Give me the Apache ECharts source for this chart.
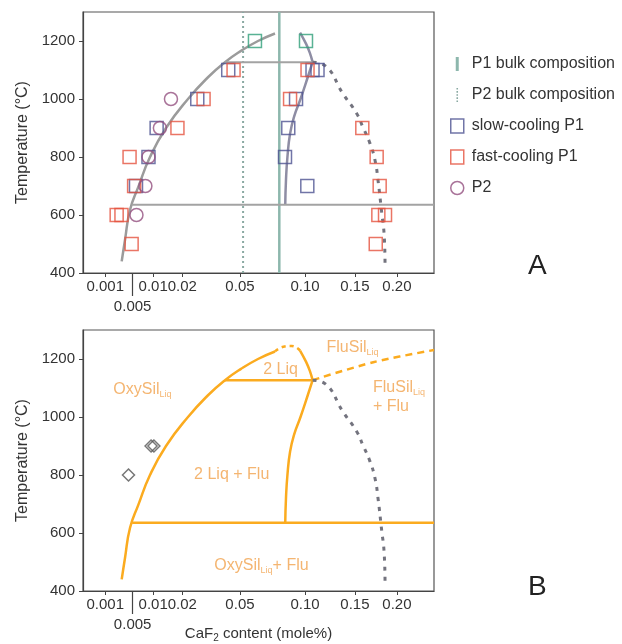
<!DOCTYPE html>
<html>
<head>
<meta charset="utf-8">
<script src="https://cdn.jsdelivr.net/npm/echarts@6/dist/echarts.min.js"></script>
<style>
html,body{margin:0;padding:0;background:#fff;}
#chart{width:622px;height:644px;}
</style>
</head>
<body>
<div id="chart"></div>
<script>
/* x axis: CaF2 content, drawn on a square-root scale */
var tickValues = [0.001, 0.01, 0.02, 0.05, 0.10, 0.15, 0.20];
var tickLabels = ['0.001', '0.01', '0.02', '0.05', '0.10', '0.15', '0.20'];
var extraTick = 0.005;
var extraLabel = '0.005';
var tempTicks = [400, 600, 800, 1000, 1200];

/* bulk compositions */
var p1Bulk = [[0.0782, 400], [0.0782, 1300]];
var p2Bulk = [[0.0520, 400], [0.0520, 1300]];

/* phase boundaries [content, T] */
var oxyLiquidus = [[0.00304, 440], [0.00358, 514], [0.00448, 617], [0.00621, 697], [0.00911, 800],
	[0.01398, 900], [0.02237, 1000], [0.03171, 1075], [0.04092, 1127], [0.05066, 1166],
	[0.06214, 1200], [0.07480, 1226]];
var fluLiqUpper = [[0.0956, 1229], [0.1010, 1190], [0.1045, 1158], [0.1070, 1127]];
var fluLiqLower = [[0.1070, 1127], [0.1025, 1075], [0.0960, 1000], [0.0905, 940], [0.0870, 880],
	[0.0848, 800], [0.0836, 720], [0.0830, 635]];
var solvus = [[0.1070, 1127], [0.1188, 1115], [0.1372, 1018], [0.1520, 950], [0.1591, 902],
	[0.1671, 847], [0.1730, 789], [0.1766, 720], [0.1811, 607], [0.1839, 538], [0.1851, 435]];
var domeTop = [[0.0748, 1226], [0.0814, 1242], [0.0884, 1245], [0.0956, 1229]];
var fluSilBoundary = [[0.1070, 1127], [0.1710, 1189], [0.2500, 1231]];
var tieUpper = [[0.0409, 1127], [0.1070, 1127]];
var tieLower = [[0.0049, 635], [0.2500, 635]];

/* experiments */
var slowP1 = [[0.0428, 1100], [0.0265, 1000], [0.0110, 900], [0.0087, 800], [0.0057, 700],
	[0.1069, 1100], [0.1116, 1100], [0.0921, 1000], [0.0855, 900], [0.0828, 800], [0.1021, 700]];
var fastP1 = [[0.0460, 1100], [0.0295, 1000], [0.0181, 900], [0.0044, 800], [0.0053, 700],
	[0.0023, 600], [0.0030, 600], [0.0048, 500],
	[0.1023, 1100], [0.0870, 1000], [0.1583, 900], [0.1750, 800], [0.1786, 700],
	[0.1770, 600], [0.1851, 600], [0.1739, 500]];
var p2Points = [[0.0157, 1000], [0.0120, 900], [0.0087, 800], [0.0079, 700], [0.0058, 600]];
var p1At1200 = [[0.0600, 1200], [0.1009, 1200]];
var diamonds = [[0.0042, 800], [0.0094, 900], [0.0102, 900]];

/* phase field labels in panel B: [content, T, text, anchor] */
var phaseLabels = [
	[0.00718, 1094, '{m|OxySil}{s|Liq}', 'inside'],
	[0.07915, 1163, '{m|2 Liq}', 'inside'],
	[0.04487, 802, '{m|2 Liq + Flu}', 'inside'],
	[0.06465, 488, '{m|OxySil}{s|Liq}{m|+ Flu}', 'inside'],
	[0.14738, 1238, '{m|FluSil}{s|Liq}', 'inside'],
	[0.17066, 1070, '{m|FluSil}{s|Liq}\n{m|+ Flu}', 'right']
];

var FONT = 'Liberation Sans, Arial, sans-serif';
var ORANGE = '#fbab1f';
var ORANGE_TEXT = '#f1a24d';

function sq(d){
	return d.map(function(p){ return [Math.sqrt(p[0]), p[1]]; });
}

function tickFormatter(val){
	for (var i = 0; i < tickValues.length; i++) {
		if (Math.abs(Math.sqrt(tickValues[i]) - val) < 1e-6) return tickLabels[i];
	}
	return '';
}

var mainTicks = tickValues.map(Math.sqrt);

function xMain(grid, name){
	var ax = {
		type : 'value', gridIndex : grid, min : 0, max : 0.5,
		axisLine : { lineStyle : { color : '#444', width : 1.2 } },
		axisTick : { length : 4, lineStyle : { color : '#444' }, customValues : mainTicks },
		axisLabel : { customValues : mainTicks, formatter : tickFormatter, margin : 6,
			fontSize : 15, color : '#333', fontFamily : FONT },
		splitLine : { show : false }
	};
	if (name) {
		ax.name = '{a|CaF}{b|2}{a| content (mole%)}';
		ax.nameLocation = 'middle';
		ax.nameGap = 34;
		ax.nameTextStyle = {
			rich : {
				a : { fontSize : 15, color : '#333', fontFamily : FONT, lineHeight : 18 },
				b : { fontSize : 10, color : '#333', fontFamily : FONT, lineHeight : 8, verticalAlign : 'bottom' }
			}
		};
	}
	return ax;
}

function xExtra(grid){
	return {
		type : 'value', gridIndex : grid, min : 0, max : 0.5, position : 'bottom',
		axisLine : { show : false },
		axisTick : { length : 23, lineStyle : { color : '#444', width : 1.2 }, customValues : [Math.sqrt(extraTick)] },
		axisLabel : { customValues : [Math.sqrt(extraTick)], formatter : function(){ return extraLabel; },
			margin : 26, fontSize : 15, color : '#333', fontFamily : FONT },
		splitLine : { show : false }
	};
}

function yAxis(grid){
	return {
		type : 'value', gridIndex : grid, min : 400, max : 1300,
		name : 'Temperature (°C)', nameLocation : 'middle', nameGap : 48,
		nameTextStyle : { fontSize : 16, color : '#333', fontFamily : FONT },
		axisLine : { show : true, lineStyle : { color : '#444', width : 1.2 } },
		axisTick : { show : true, length : 4, lineStyle : { color : '#444' }, customValues : tempTicks },
		axisLabel : { customValues : tempTicks, formatter : function(v){ return String(v); },
			margin : 8, fontSize : 15, color : '#333', fontFamily : FONT },
		splitLine : { show : false }
	};
}

function line(name, data, axis, color, width, type, smooth){
	return {
		name : name, type : 'line', xAxisIndex : axis[0], yAxisIndex : axis[1],
		data : sq(data), showSymbol : false, symbol : 'none', smooth : smooth || false,
		silent : true, z : 2,
		lineStyle : { color : color, width : width, type : type || 'solid', cap : 'butt' },
		itemStyle : { color : color }
	};
}

function points(name, data, axis, symbol, size, color){
	return {
		name : name, type : 'scatter', xAxisIndex : axis[0], yAxisIndex : axis[1],
		data : sq(data), symbol : symbol, symbolSize : size, z : 5,
		itemStyle : { color : 'transparent', borderColor : color, borderWidth : 1.5 }
	};
}

var A = [0, 0], B = [2, 1];

var labelData = phaseLabels.map(function(p){
	return {
		value : [Math.sqrt(p[0]), p[1]],
		label : { formatter : p[2], position : p[3], distance : 0, align : p[3] == 'right' ? 'left' : 'center' }
	};
});

var chart = echarts.init(document.getElementById('chart'));
var option = {
	backgroundColor : '#fff',
	animation : false,
	title : [
		{ text : 'A', left : 528, top : 252, padding : 0,
			textStyle : { fontSize : 28, fontWeight : 'normal', color : '#222', fontFamily : FONT } },
		{ text : 'B', left : 528, top : 573, padding : 0,
			textStyle : { fontSize : 28, fontWeight : 'normal', color : '#222', fontFamily : FONT } }
	],
	legend : {
		orient : 'vertical', left : 445, top : 51, itemWidth : 13, itemHeight : 14, itemGap : 15,
		selectedMode : false,
		textStyle : { fontSize : 16, color : '#333', fontFamily : FONT, padding : [0, 0, 0, 3] },
		data : [
			{ name : 'P1 bulk composition', icon : 'path://M0,0h3v14h-3z', itemStyle : { color : '#8db7ad' } },
			{ name : 'P2 bulk composition', icon : 'path://M0,0h2v2h-2zM0,4h2v2h-2zM0,8h2v2h-2zM0,12h2v2h-2zM0,16h2v2h-2z',
				itemStyle : { color : '#8aa9a2' } },
			{ name : 'slow-cooling P1', icon : 'rect', itemStyle : { color : 'transparent', borderColor : '#4d5391', borderWidth : 1.5 } },
			{ name : 'fast-cooling P1', icon : 'rect', itemStyle : { color : 'transparent', borderColor : '#e5533f', borderWidth : 1.5 } },
			{ name : 'P2', icon : 'circle', itemStyle : { color : 'transparent', borderColor : '#93507f', borderWidth : 1.5 } }
		]
	},
	grid : [
		{ left : 83, top : 12, width : 351, height : 261, show : true, borderColor : '#555', borderWidth : 1.2 },
		{ left : 83, top : 330, width : 351, height : 262, show : true, borderColor : '#555', borderWidth : 1.2 }
	],
	xAxis : [ xMain(0), xExtra(0), xMain(1, true), xExtra(1) ],
	yAxis : [ yAxis(0), yAxis(1) ],
	series : [
		/* panel A */
		line('P1 bulk composition', p1Bulk, A, '#8db7ad', 2.5),
		line('P2 bulk composition', p2Bulk, A, '#8aa9a2', 2, [2, 3]),
		line('liquidus A', oxyLiquidus, A, '#9b9b9b', 2.5, 'solid', 0.5),
		line('flu upper A', fluLiqUpper, A, '#8e8da4', 2.5, 'solid', 0.4),
		line('flu lower A', fluLiqLower, A, '#8e8da4', 2.5, 'solid', 0.5),
		line('tie upper A', tieUpper, A, '#a3a3a3', 2),
		line('tie lower A', tieLower, A, '#a3a3a3', 2),
		line('solvus A', solvus, A, '#73737e', 3, [4, 6], 0.5),
		points('1200 P1', p1At1200, A, 'rect', 13, '#2f9f79'),
		points('slow-cooling P1', slowP1, A, 'rect', 13, '#4d5391'),
		points('fast-cooling P1', fastP1, A, 'rect', 13, '#e5533f'),
		points('P2', p2Points, A, 'circle', 13, '#93507f'),
		/* panel B */
		line('liquidus B', oxyLiquidus, B, ORANGE, 2.5, 'solid', 0.5),
		line('dome B', domeTop, B, ORANGE, 2.5, [4, 4], 0.5),
		line('flu upper B', fluLiqUpper, B, ORANGE, 2.5, 'solid', 0.4),
		line('flu lower B', fluLiqLower, B, ORANGE, 2.5, 'solid', 0.5),
		line('tie upper B', tieUpper, B, ORANGE, 2.5),
		line('tie lower B', tieLower, B, ORANGE, 2.5),
		line('flusil B', fluSilBoundary, B, ORANGE, 2.5, [7, 5], 0.3),
		line('solvus B', solvus, B, '#73737e', 3, [4, 6], 0.5),
		points('diamonds', diamonds, B, 'diamond', 12, '#555'),
		{
			name : 'phase labels', type : 'scatter', xAxisIndex : 2, yAxisIndex : 1,
			data : labelData, symbolSize : 0, silent : true, z : 6,
			label : {
				show : true,
				rich : {
					m : { fontSize : 16, lineHeight : 19, color : ORANGE_TEXT, fontFamily : FONT },
					s : { fontSize : 9, lineHeight : 5, color : ORANGE_TEXT, fontFamily : FONT, verticalAlign : 'bottom' }
				}
			}
		}
	]
};
chart.setOption(option);
</script>
</body>
</html>
